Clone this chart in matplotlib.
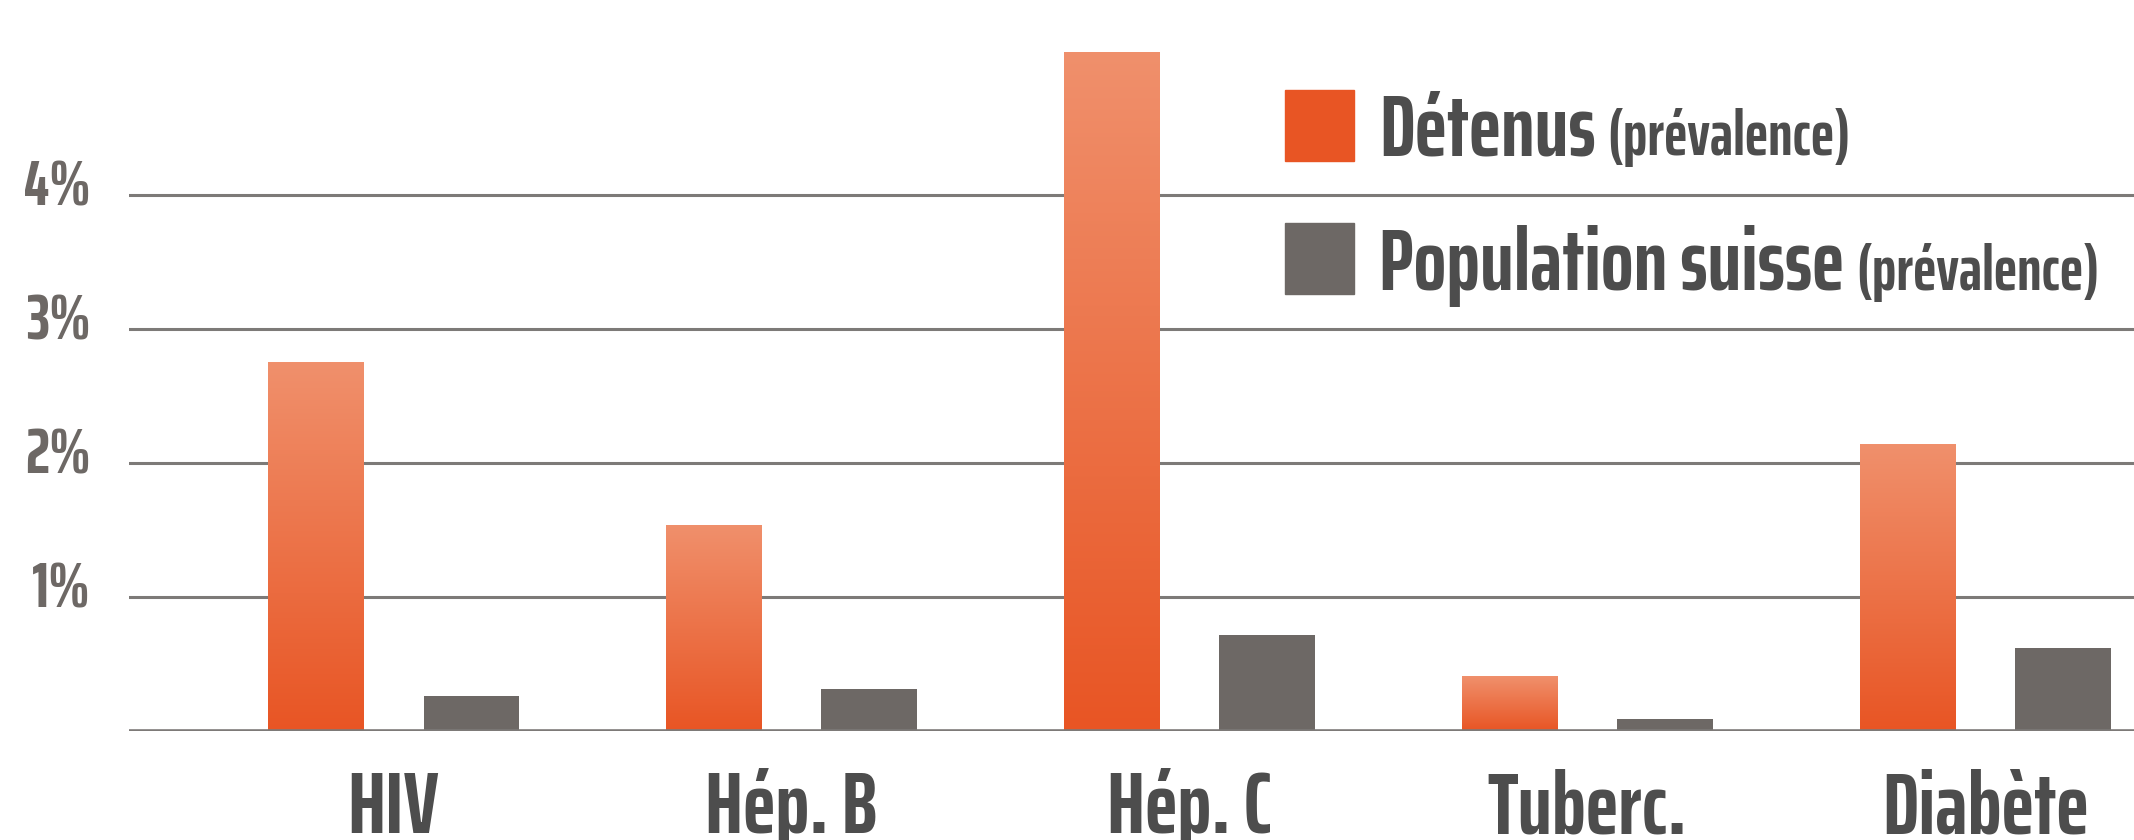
import numpy as np
import matplotlib.pyplot as plt
from matplotlib.colors import LinearSegmentedColormap
from matplotlib.patches import Rectangle
from matplotlib.transforms import ScaledTranslation

# données (prévalence en %)
categories = ["HIV", "Hép. B", "Hép. C", "Tuberc.", "Diabète"]
detenus = [2.75, 1.54, 5.07, 0.41, 2.14]
population = [0.26, 0.31, 0.72, 0.09, 0.62]
y_ticks = [1, 2, 3, 4]
y_labels = ["1%", "2%", "3%", "4%"]
legend_main = ["Détenus", "Population suisse"]
legend_note = "(prévalence)"

ORANGE = "#E85524"
ORANGE_LIGHT = "#F0906C"
GREY = "#6D6865"
TEXT = "#4D4D4D"
GRID = "#7D7A78"
FONT = ["Saira ExtraCondensed", "DejaVu Sans"]

W, H = 2134, 840
fig = plt.figure(figsize=(W / 100, H / 100), dpi=100)
ax = fig.add_axes([129 / W, 109 / H, 1 - 129 / W, 731 / H])

x = np.arange(len(categories))
width = 0.24
offset = 0.39

# barres détenus avec dégradé
grad = LinearSegmentedColormap.from_list("det", [ORANGE, ORANGE_LIGHT])
bars = ax.bar(x, detenus, width, color=ORANGE, zorder=2)
for rect in bars:
    x0, h = rect.get_x(), rect.get_height()
    img = ax.imshow(np.linspace(0, 1, 256).reshape(-1, 1), cmap=grad, origin="lower",
                    extent=[x0, x0 + rect.get_width(), 0, h], aspect="auto", zorder=3)
    img.set_clip_path(rect)

ax.bar(x + offset, population, width, color=GREY, zorder=2)

ax.set_xlim(-0.47, len(categories) - 0.432)
ax.set_ylim(0, 5.455)

ax.set_yticks(y_ticks, y_labels)
ax.grid(axis="y", color=GRID, lw=2.2)
ax.set_axisbelow(True)
ax.axhline(0, color=GRID, lw=2.6, zorder=4)

for s in ax.spines.values():
    s.set_visible(False)
ax.tick_params(length=0)
ax.tick_params(axis="y", pad=27.5)
ax.tick_params(axis="x", pad=73.5)

for lab in ax.get_yticklabels():
    lab.set_fontsize(46)
    lab.set_fontweight("bold")
    lab.set_color(GREY)
    lab.set_family(FONT)
    lab.set_verticalalignment("baseline")
    lab.set_transform(lab.get_transform() + ScaledTranslation(0, -0.11, fig.dpi_scale_trans))

ax.set_xticks(x + offset / 2, categories)
for lab in ax.get_xticklabels():
    lab.set_fontsize(63)
    lab.set_fontweight("bold")
    lab.set_color(TEXT)
    lab.set_family(FONT)
    lab.set_verticalalignment("baseline")

# légende manuelle
renderer = fig.canvas.get_renderer()
for i, (name, col) in enumerate(zip(legend_main, [ORANGE, GREY])):
    top = 90 + i * 133
    fig.add_artist(Rectangle((1285 / W, 1 - (top + 71) / H), 69 / W, 71 / H,
                             transform=fig.transFigure, color=col))
    base = 1 - (155 + i * 135) / H
    t1 = fig.text(1379 / W, base, name, fontsize=62, fontweight="bold",
                  color=TEXT, family=FONT, va="baseline")
    bb = t1.get_window_extent(renderer)
    fig.text((bb.x1 + 12) / W, base, legend_note, fontsize=45,
             fontweight="bold", color=TEXT, family=FONT, va="baseline")

plt.savefig("out.png", dpi=100)
plt.close()
